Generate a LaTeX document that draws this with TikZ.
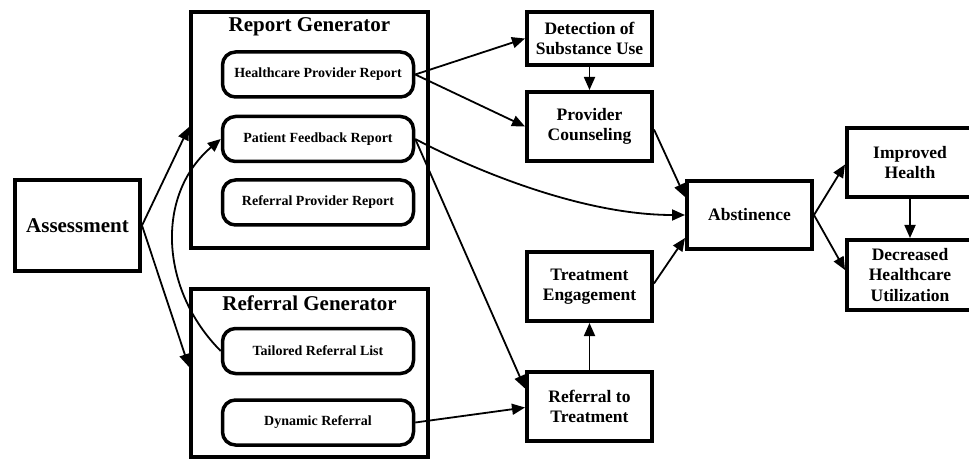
\documentclass[tikz,border=0pt]{standalone}
\usepackage{fontspec}
\setmainfont{Liberation Serif}
\usetikzlibrary{arrows.meta}
\begin{document}
\begin{tikzpicture}[x=1pt,y=-1pt,
  box/.style={draw, line width=4pt, fill=white, inner sep=0pt, align=center,
    font=\bfseries\fontsize{17.5}{20.5}\selectfont},
  group/.style={draw, line width=4pt, fill=white, inner sep=0pt},
  sub/.style={draw, line width=3.5pt, rounded corners=13pt, fill=white, inner sep=0pt,
    minimum width=191pt, minimum height=45pt, font=\bfseries\fontsize{14}{16}\selectfont},
  gtitle/.style={font=\bfseries\fontsize{21}{24}\selectfont, inner sep=0pt},
  arr/.style={line width=1.8pt, -{Triangle[length=13pt,width=11pt]}}]
\useasboundingbox (0,0) rectangle (969,462);
% left
\node[box, minimum width=125pt, minimum height=91pt, font=\bfseries\fontsize{21}{24}\selectfont] (assess) at (77.5,225.5) {Assessment};
% groups
\node[group, minimum width=237pt, minimum height=236pt] (rg) at (309.5,130) {};
\node[gtitle] (rgt) at (309.5,27) {Report Generator};
\node[sub] (hpr) at (318,74.5) {Healthcare Provider Report};
\node[sub] (pfr) at (318,139) {Patient Feedback Report};
\node[sub] (rpr) at (318,202.5) {Referral Provider Report};
\node[group, minimum width=237pt, minimum height=168pt] (refg) at (309.5,373) {};
\node[gtitle] (refgt) at (309.5,303) {Referral Generator};
\node[sub] (trl) at (318,351) {Tailored Referral List};
\node[sub] (dyn) at (318,422.5) {Dynamic Referral};
% middle
\node[box, minimum width=125pt, minimum height=53pt] (det) at (589.5,38.5) {Detection of\\Substance Use};
\node[box, minimum width=125pt, minimum height=69pt] (pc) at (589.5,126.5) {Provider\\Counseling};
\node[box, minimum width=125pt, minimum height=69pt] (te) at (589.5,286.5) {Treatment\\Engagement};
\node[box, minimum width=125pt, minimum height=69pt] (rtt) at (589.5,406.5) {Referral to\\Treatment};
% right
\node[box, minimum width=125pt, minimum height=68pt] (abs) at (749.5,215) {Abstinence};
\node[box, minimum width=126pt, minimum height=69pt] (ih) at (910,162.5) {Improved\\Health};
\node[box, minimum width=126pt, minimum height=70pt] (dhu) at (910,275) {Decreased\\Healthcare\\Utilization};
% connectors
\draw[arr] (assess.east) -- ([yshift=3pt]rg.west);
\draw[arr] (assess.east) -- ([yshift=6pt]refg.west);
\draw[arr] (trl.west) .. controls (160,290) and (155,195) .. (pfr.west);
\draw[arr] (hpr.east) -- (det.west);
\draw[arr] (hpr.east) -- (pc.west);
\draw[arr] (pfr.east) .. controls (470,168) and (580,215) .. (abs.west);
\draw[arr] (pfr.east) -- ([yshift=18pt]rtt.west);
\draw[arr] (dyn.east) -- ([yshift=-1pt]rtt.west);
\draw[arr] (det.south) -- (pc.north);
\draw[arr] (rtt.north) -- (te.south);
\draw[arr] ([yshift=-3pt]pc.east) -- ([yshift=18pt]abs.west);
\draw[arr] ([yshift=3pt]te.east) -- ([yshift=-23pt]abs.west);
\draw[arr] (abs.east) -- ([yshift=-2pt]ih.west);
\draw[arr] (abs.east) -- ([yshift=5pt]dhu.west);
\draw[arr] (ih.south) -- (dhu.north);
\end{tikzpicture}
\end{document}
